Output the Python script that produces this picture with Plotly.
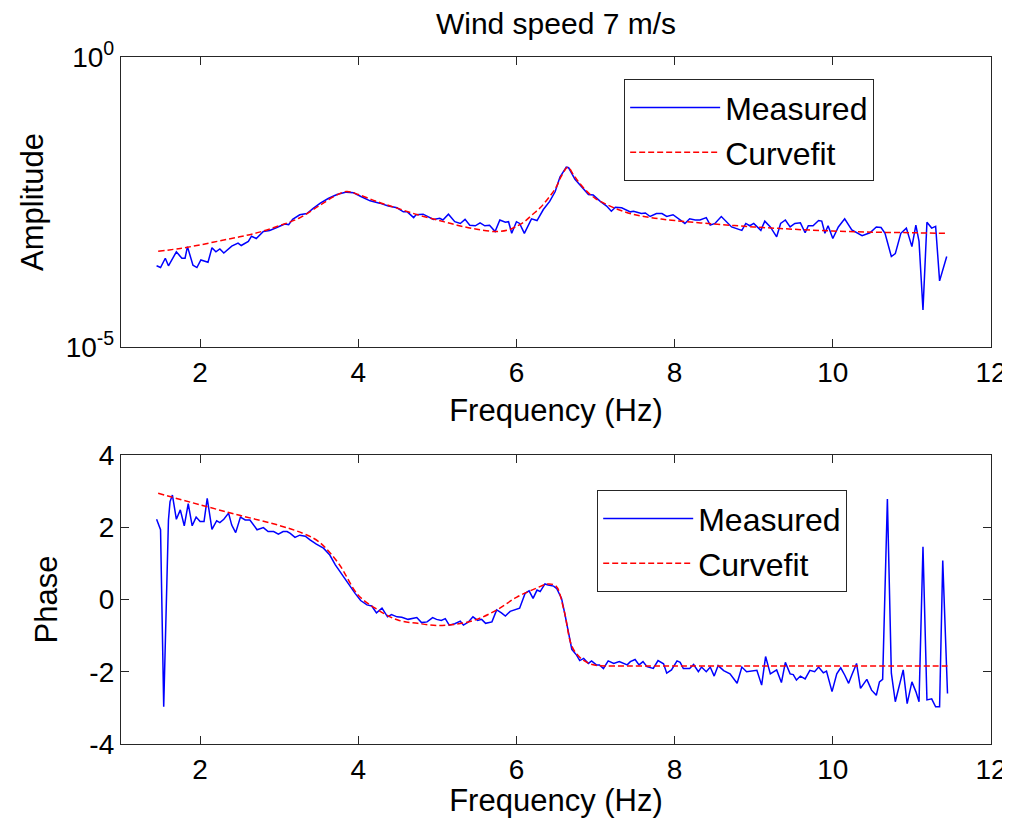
import plotly.graph_objects as go

# ---------------- Amplitude (top panel) ----------------
amp_meas_freq = [1.45, 1.50, 1.56, 1.60, 1.70, 1.77, 1.81, 1.84, 1.91, 1.96, 2.01, 2.10, 2.15, 2.20, 2.25,
                 2.30, 2.40, 2.48, 2.52, 2.61, 2.65, 2.71, 2.80, 2.88, 2.97, 3.07, 3.12, 3.17, 3.26, 3.35,
                 3.43, 3.52, 3.62, 3.73, 3.85, 3.94, 4.04, 4.15, 4.27, 4.38, 4.49, 4.57, 4.62, 4.70, 4.73,
                 4.82, 4.95, 5.03, 5.07, 5.14, 5.22, 5.29, 5.35, 5.41, 5.48, 5.54, 5.60, 5.66, 5.73, 5.79,
                 5.86, 5.90, 5.94, 6.00, 6.04, 6.10, 6.19, 6.26, 6.34, 6.42, 6.49, 6.55, 6.63, 6.66, 6.74,
                 6.83, 6.91, 6.97, 7.06, 7.14, 7.20, 7.25, 7.33, 7.44, 7.48, 7.58, 7.63, 7.69, 7.77, 7.84,
                 7.90, 7.98, 8.07, 8.13, 8.19, 8.26, 8.32, 8.40, 8.45, 8.51, 8.59, 8.72, 8.85, 8.90, 8.95,
                 9.00, 9.09, 9.14, 9.21, 9.29, 9.34, 9.40, 9.46, 9.52, 9.59, 9.65, 9.69, 9.75, 9.82, 9.86,
                 9.90, 9.94, 10.00, 10.07, 10.15, 10.24, 10.37, 10.47, 10.55, 10.61, 10.66, 10.74, 10.79,
                 10.86, 10.93, 11.00, 11.05, 11.09, 11.14, 11.19, 11.25, 11.30, 11.35, 11.44]
amp_meas_log10 = [-3.60, -3.63, -3.47, -3.60, -3.36, -3.47, -3.47, -3.27, -3.59, -3.63, -3.50, -3.54, -3.29, -3.36, -3.31,
                  -3.38, -3.26, -3.21, -3.25, -3.18, -3.09, -3.13, -3.01, -2.99, -2.94, -2.88, -2.89, -2.80, -2.72, -2.70,
                  -2.61, -2.52, -2.44, -2.37, -2.33, -2.34, -2.41, -2.48, -2.52, -2.57, -2.60, -2.67, -2.67, -2.77, -2.72,
                  -2.71, -2.80, -2.78, -2.81, -2.71, -2.84, -2.87, -2.80, -2.90, -2.91, -2.86, -2.91, -2.90, -3.01, -2.81,
                  -2.85, -2.84, -3.04, -2.84, -2.87, -3.04, -2.79, -2.82, -2.63, -2.49, -2.32, -2.07, -1.90, -1.91, -2.11,
                  -2.24, -2.37, -2.38, -2.49, -2.57, -2.66, -2.59, -2.60, -2.67, -2.66, -2.70, -2.69, -2.75, -2.70, -2.70,
                  -2.75, -2.72, -2.81, -2.87, -2.79, -2.81, -2.81, -2.77, -2.90, -2.87, -2.75, -2.93, -2.99, -2.87, -2.91,
                  -2.87, -2.99, -2.83, -2.93, -3.10, -2.87, -2.81, -2.93, -2.87, -2.86, -3.03, -2.91, -2.91, -2.82, -2.83,
                  -3.04, -2.91, -3.13, -2.93, -2.79, -2.98, -3.08, -3.03, -2.93, -2.94, -3.04, -3.44, -3.39,
                  -3.04, -2.95, -3.27, -2.90, -3.18, -4.36, -2.85, -2.95, -2.92, -3.86, -3.44]

amp_fit_freq = [1.47, 1.75, 2.00, 2.25, 2.50, 2.75, 3.00, 3.25, 3.50, 3.70, 3.85, 4.00, 4.25, 4.50, 4.75,
                5.00, 5.25, 5.50, 5.75, 5.90, 6.00, 6.10, 6.20, 6.30, 6.40, 6.50, 6.57, 6.65, 6.72, 6.80,
                6.90, 7.00, 7.25, 7.50, 7.75, 8.00, 8.50, 9.00, 9.50, 10.00, 10.50, 11.00, 11.42]
amp_fit_log10 = [-3.35, -3.30, -3.24, -3.17, -3.10, -3.02, -2.91, -2.78, -2.57, -2.40, -2.32, -2.37, -2.50, -2.61, -2.72,
                 -2.81, -2.90, -2.97, -3.01, -2.98, -2.92, -2.84, -2.72, -2.60, -2.44, -2.25, -2.05, -1.90, -2.03, -2.18,
                 -2.33, -2.44, -2.61, -2.72, -2.78, -2.82, -2.88, -2.93, -2.97, -3.00, -3.02, -3.03, -3.04]

# ---------------- Phase (bottom panel) ----------------
ph_meas_freq = [1.45, 1.50, 1.54, 1.60, 1.62, 1.65, 1.70, 1.75, 1.80, 1.85, 1.90, 1.95, 2.00, 2.05, 2.09,
                2.15, 2.21, 2.25, 2.30, 2.36, 2.40, 2.45, 2.51, 2.57, 2.63, 2.68, 2.72, 2.80, 2.86, 2.93,
                2.99, 3.05, 3.10, 3.14, 3.20, 3.26, 3.33, 3.39, 3.47, 3.56, 3.64, 3.71, 3.77, 3.83, 3.90,
                3.96, 4.03, 4.11, 4.17, 4.23, 4.30, 4.37, 4.42, 4.49, 4.55, 4.63, 4.74, 4.80, 4.87, 4.94,
                4.99, 5.05, 5.10, 5.15, 5.22, 5.29, 5.33, 5.39, 5.45, 5.51, 5.56, 5.61, 5.69, 5.75, 5.81,
                5.86, 5.92, 5.98, 6.04, 6.11, 6.16, 6.21, 6.26, 6.30, 6.36, 6.40, 6.47, 6.51, 6.57, 6.61,
                6.66, 6.70, 6.76, 6.80, 6.85, 6.91, 6.95, 7.01, 7.05, 7.10, 7.16, 7.23, 7.30, 7.35, 7.40,
                7.44, 7.50, 7.55, 7.60, 7.65, 7.73, 7.79, 7.86, 7.90, 7.96, 8.03, 8.07, 8.11, 8.19, 8.24,
                8.30, 8.34, 8.40, 8.45, 8.50, 8.55, 8.62, 8.70, 8.79, 8.85, 8.91, 9.04, 9.10, 9.15, 9.21,
                9.29, 9.35, 9.40, 9.46, 9.50, 9.54, 9.59, 9.65, 9.71, 9.77, 9.82, 9.88, 9.92, 9.99, 10.05,
                10.10, 10.15, 10.20, 10.24, 10.30, 10.35, 10.43, 10.49, 10.55, 10.59, 10.63, 10.69, 10.74,
                10.79, 10.89, 10.94, 11.00, 11.05, 11.09, 11.14, 11.19, 11.25, 11.30, 11.35, 11.39, 11.45]
ph_meas = [2.22, 1.93, -2.97, 2.20, 2.71, 2.89, 2.22, 2.48, 2.04, 2.65, 2.04, 2.28, 2.16, 2.16, 2.80,
           1.94, 2.18, 2.13, 2.22, 2.39, 2.06, 1.85, 2.28, 2.20, 2.20, 2.06, 1.93, 1.99, 1.88, 1.88,
           1.81, 1.88, 1.88, 1.83, 1.72, 1.78, 1.75, 1.65, 1.53, 1.42, 1.23, 0.96, 0.77, 0.56, 0.37,
           0.17, -0.03, -0.15, -0.18, -0.37, -0.24, -0.48, -0.42, -0.48, -0.49, -0.55, -0.50, -0.64, -0.62, -0.50,
           -0.55, -0.58, -0.53, -0.71, -0.67, -0.60, -0.71, -0.63, -0.48, -0.58, -0.55, -0.66, -0.62, -0.29, -0.37,
           -0.46, -0.33, -0.29, -0.24, 0.17, 0.24, 0.03, 0.26, 0.22, 0.43, 0.40, 0.37, 0.30, 0.03, -0.38,
           -0.94, -1.38, -1.54, -1.69, -1.63, -1.77, -1.70, -1.81, -1.81, -1.91, -1.70, -1.77, -1.72, -1.77, -1.81,
           -1.72, -1.66, -1.81, -1.72, -1.86, -1.91, -1.69, -1.78, -2.04, -1.95, -1.70, -1.74, -1.91, -1.91, -1.80,
           -2.00, -1.87, -2.00, -1.87, -2.12, -1.83, -1.97, -2.06, -2.32, -1.87, -2.00, -1.96, -2.37, -1.58, -2.06,
           -1.95, -2.30, -1.74, -2.06, -2.08, -2.23, -2.12, -2.20, -1.96, -2.00, -1.87, -2.03, -1.98, -2.55, -2.06,
           -1.89, -2.09, -2.32, -2.09, -1.77, -2.46, -2.21, -2.51, -2.65, -2.28, -2.21, 2.78, -2.04,
           -2.83, -1.95, -2.88, -2.28, -2.55, -2.83, 1.46, -2.78, -2.75, -2.97, -2.97, 1.08, -2.60]

ph_fit_freq = [1.47, 2.00, 2.50, 3.00, 3.30, 3.50, 3.75, 4.00, 4.25, 4.50, 4.75, 5.00, 5.25, 5.50, 5.75,
               6.00, 6.25, 6.40, 6.50, 6.60, 6.70, 6.80, 6.90, 7.00, 7.25, 8.00, 9.00, 10.00, 11.00, 11.45]
ph_fit = [2.94, 2.62, 2.33, 2.05, 1.83, 1.60, 1.00, 0.12, -0.29, -0.57, -0.66, -0.72, -0.68, -0.55, -0.29,
          0.06, 0.31, 0.43, 0.37, -0.29, -1.29, -1.60, -1.75, -1.82, -1.84, -1.84, -1.84, -1.84, -1.84, -1.84]

x_ticks = [2, 4, 6, 8, 10, 12]
phase_ticks = [-4, -2, 0, 2, 4]
phase_tick_text = ['-4', '-2', '0', '2', '4']
amp_ticks = [1e-5, 1.0]
amp_tick_text = ['10<sup>-5</sup>', '10<sup>0</sup>']

amp_meas = [10 ** v for v in amp_meas_log10]
amp_fit = [10 ** v for v in amp_fit_log10]

BLUE = '#0000FF'
RED = '#FF0000'
AX = '#262626'
FONT = 'Liberation Sans, Arial, Helvetica, sans-serif'

fig = go.Figure()
fig.add_trace(go.Scatter(x=amp_meas_freq, y=amp_meas, mode='lines', name='Measured',
                         line=dict(color=BLUE, width=1.5), xaxis='x', yaxis='y', legend='legend'))
fig.add_trace(go.Scatter(x=amp_fit_freq, y=amp_fit, mode='lines', name='Curvefit',
                         line=dict(color=RED, width=1.5, dash='6px,3px', shape='spline'),
                         xaxis='x', yaxis='y', legend='legend'))
fig.add_trace(go.Scatter(x=ph_meas_freq, y=ph_meas, mode='lines', name='Measured',
                         line=dict(color=BLUE, width=1.5), xaxis='x2', yaxis='y2', legend='legend2'))
fig.add_trace(go.Scatter(x=ph_fit_freq, y=ph_fit, mode='lines', name='Curvefit',
                         line=dict(color=RED, width=1.5, dash='6px,3px', shape='spline'),
                         xaxis='x2', yaxis='y2', legend='legend2'))

common = dict(showline=True, linecolor=AX, linewidth=1.3, mirror='allticks', ticks='inside',
              ticklen=8, tickcolor=AX, tickwidth=1.2, showgrid=False, zeroline=False,
              automargin=False,
              tickfont=dict(size=28, color='black', family=FONT))

legend_common = dict(xanchor='left', yanchor='top', bgcolor='white', bordercolor=AX, borderwidth=1.3,
                     font=dict(size=32, color='black', family=FONT), tracegroupgap=0,
                     itemwidth=90)

TITLE_FONT = dict(size=31, color='black', family=FONT)

# the page body adds an 8px offset, so the figure is sized to fit inside the window
fig.update_layout(
    width=1002, height=810,
    paper_bgcolor='white', plot_bgcolor='white',
    font=dict(family=FONT, color='black'),
    margin=dict(l=113, r=19, t=49, b=74),
    title=dict(text='Wind speed 7 m/s', x=0.5, xref='paper', xanchor='center',
               y=1 - 15 / 810, yref='container', yanchor='middle',
               font=dict(size=30, color='black', family=FONT)),
    xaxis=dict(common, domain=[0, 1], anchor='y', range=[1, 12], tickvals=x_ticks,
               ticklabeloverflow='allow',
               title=dict(text='Frequency (Hz)', font=TITLE_FONT, standoff=12)),
    yaxis=dict(common, domain=[0.5779, 1], anchor='x', type='log', range=[-5, 0],
               tickvals=amp_ticks, ticktext=amp_tick_text,
               title=dict(text='Amplitude', font=TITLE_FONT, standoff=12)),
    xaxis2=dict(common, domain=[0, 1], anchor='y2', range=[1, 12], tickvals=x_ticks,
                ticklabeloverflow='allow',
                title=dict(text='Frequency (Hz)', font=TITLE_FONT, standoff=12)),
    yaxis2=dict(common, domain=[0, 0.4207], anchor='x2', range=[-4, 4],
                tickvals=phase_ticks, ticktext=phase_tick_text,
                title=dict(text='Phase', font=TITLE_FONT, standoff=22)),
    legend=dict(legend_common, x=0.578, y=0.968),
    legend2=dict(legend_common, x=0.547, y=0.3697),
)

fig.write_html('out.html')
